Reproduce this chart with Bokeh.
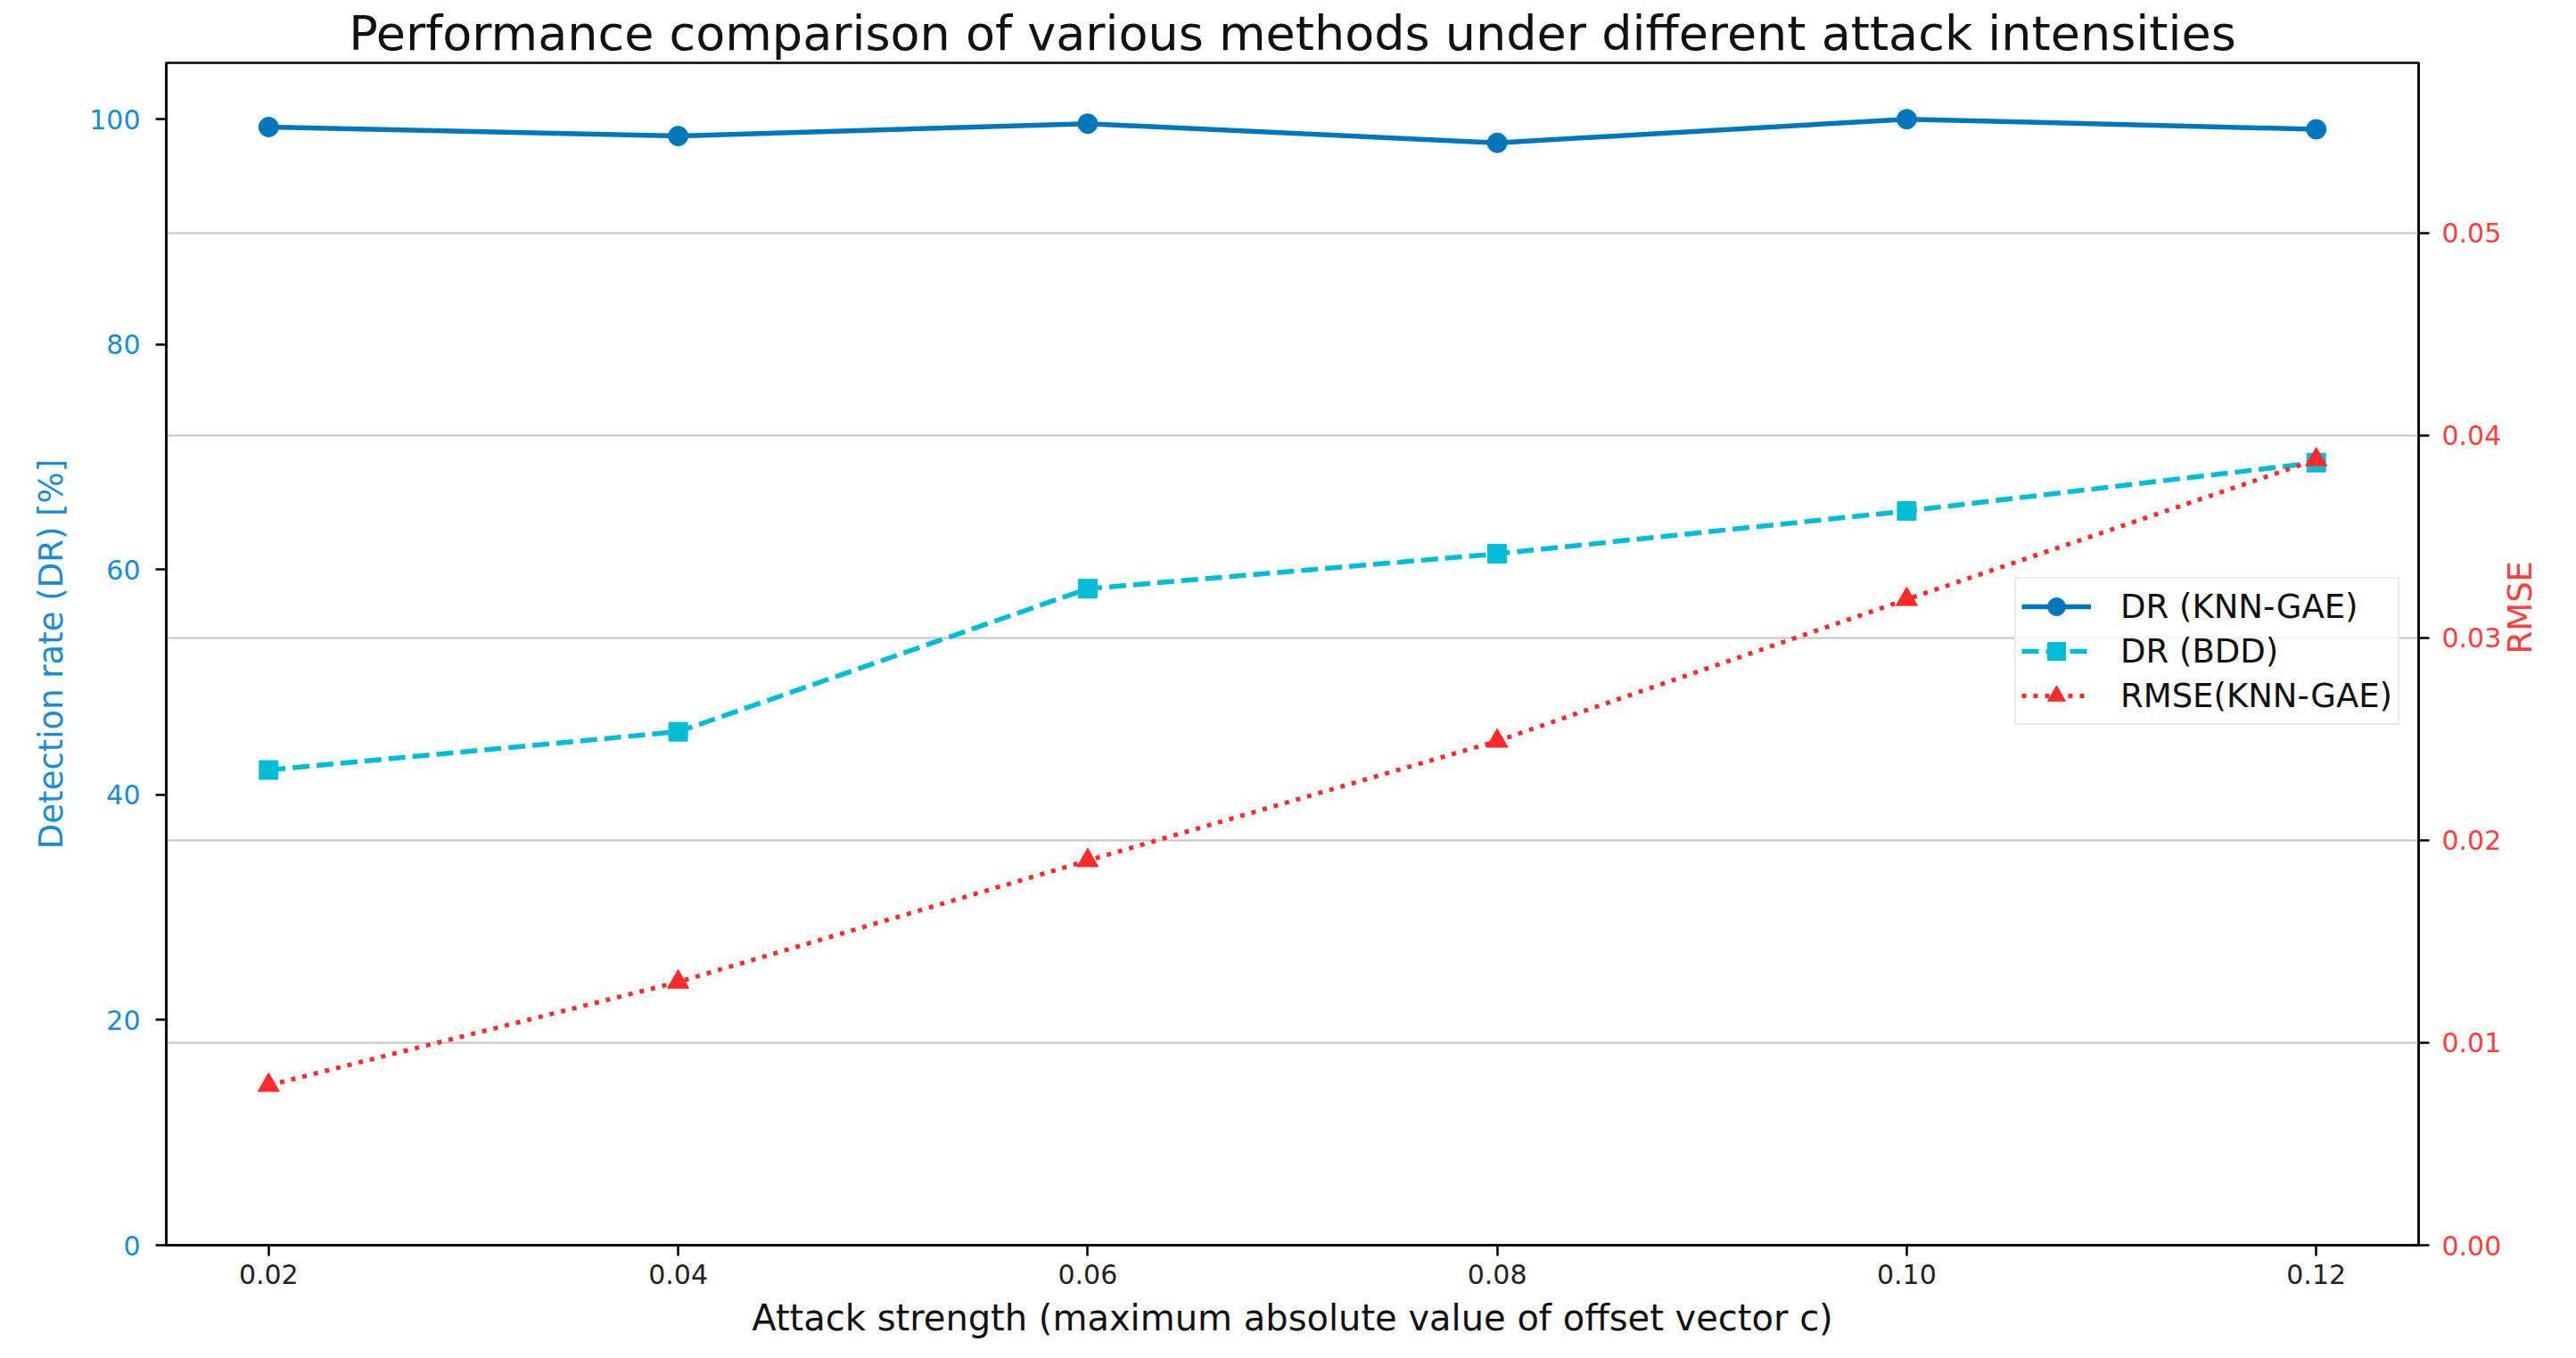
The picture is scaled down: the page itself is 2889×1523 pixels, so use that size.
import math
from bokeh.plotting import figure
from bokeh.models import (Range1d, LinearAxis, FixedTicker, PrintfTickFormatter,
                          Legend, LegendItem, Grid)
from bokeh.embed import file_html
from bokeh.resources import INLINE

# ---- data ----
attack = [0.02, 0.04, 0.06, 0.08, 0.10, 0.12]
dr_knn_gae = [99.3, 98.5, 99.6, 97.9, 100.0, 99.1]
dr_bdd = [42.2, 45.6, 58.3, 61.4, 65.2, 69.5]
rmse_knn_gae = [0.0079, 0.0130, 0.0190, 0.0249, 0.0319, 0.0388]

x_ticks = [0.02, 0.04, 0.06, 0.08, 0.10, 0.12]
left_ticks = [0, 20, 40, 60, 80, 100]
right_ticks = [0.0, 0.01, 0.02, 0.03, 0.04, 0.05]

title_text = "Performance comparison of various methods under different attack intensities"
x_label = "Attack strength (maximum absolute value of offset vector c)"
y_label = "Detection rate (DR) [%]"
y2_label = "RMSE"

# ---- styles ----
FONT = "DejaVu Sans"
C_KNN = "#0077bb"
C_LEFT_TXT = "#1a8cd0"
C_BDD = "#00bcd4"
C_RMSE = "#ff2a2a"
C_RMSE_TXT = "#ff4040"

p = figure(width=2873, height=1507, output_backend="svg", toolbar_location=None,
           x_range=Range1d(0.015, 0.125), y_range=Range1d(0, 105),
           min_border_left=186, min_border_right=161, min_border_top=70,
           min_border_bottom=111)
p.extra_y_ranges = {"rmse": Range1d(0, 0.0584)}

p.title.text = title_text
p.title.align = "center"
p.title.text_font = FONT
p.title.text_font_size = "54px"
p.title.text_font_style = "normal"
p.title.text_color = "#111111"
p.title.standoff = 4
p.title.offset = 0

p.outline_line_color = "black"
p.outline_line_width = 2.5
p.outline_line_alpha = 1
p.background_fill_color = "white"
p.border_fill_color = "white"

# default grids off; use grid from right axis ticks
p.xgrid.visible = False
p.ygrid.visible = False
g = Grid(dimension=1, ticker=FixedTicker(ticks=right_ticks), y_range_name="rmse",
         grid_line_color="#c4c4c4", grid_line_width=2)
p.add_layout(g)

# x axis
xa = p.xaxis[0]
xa.ticker = FixedTicker(ticks=x_ticks)
xa.formatter = PrintfTickFormatter(format="%.2f")
xa.axis_label = x_label
# left axis
ya = p.yaxis[0]
ya.ticker = FixedTicker(ticks=left_ticks)
ya.formatter = PrintfTickFormatter(format="%d")
ya.axis_label = y_label
# right axis
ra = LinearAxis(y_range_name="rmse", ticker=FixedTicker(ticks=right_ticks),
                formatter=PrintfTickFormatter(format="%.2f"), axis_label=y2_label)
p.add_layout(ra, "right")

for ax in (xa, ya, ra):
    ax.axis_line_color = "black"
    ax.axis_line_width = 2.5
    ax.major_tick_line_color = "black"
    ax.major_tick_line_width = 2.5
    ax.major_tick_out = 12
    ax.major_tick_in = 0
    ax.minor_tick_line_color = None
    ax.major_label_text_font = FONT
    ax.major_label_text_font_size = "30px"
    ax.axis_label_text_font = FONT
    ax.axis_label_text_font_size = "37px"
    ax.axis_label_text_font_style = "normal"

xa.major_label_text_color = "#222222"
xa.axis_label_text_color = "#111111"
xa.axis_label_text_font_size = "40px"
xa.major_label_standoff = 9
xa.axis_label_standoff = 12

ya.major_label_text_color = C_LEFT_TXT
ya.axis_label_text_color = C_LEFT_TXT
ya.major_label_standoff = 17
ya.axis_label_standoff = 18

ra.major_label_text_color = C_RMSE_TXT
ra.axis_label_text_color = C_RMSE_TXT
ra.major_label_standoff = 14
ra.axis_label_standoff = 18
ra.axis_label_orientation = math.pi / 2

# ---- series ----
l1 = p.line(attack, dr_knn_gae, line_color=C_KNN, line_width=5.5)
s1 = p.scatter(attack, dr_knn_gae, marker="circle", size=22, fill_color=C_KNN, line_color=C_KNN)

l2 = p.line(attack, dr_bdd, line_color=C_BDD, line_width=5.5, line_dash="19 8")
s2 = p.scatter(attack, dr_bdd, marker="square", size=21, fill_color=C_BDD, line_color=C_BDD)

l3 = p.line(attack, rmse_knn_gae, line_color=C_RMSE, line_width=5, line_dash="5 8",
            y_range_name="rmse")
s3 = p.scatter(attack, rmse_knn_gae, marker="triangle", size=24, fill_color=C_RMSE,
               line_color=C_RMSE, y_range_name="rmse")

legend = Legend(items=[
    LegendItem(label="DR (KNN-GAE)", renderers=[l1, s1]),
    LegendItem(label="DR (BDD)", renderers=[l2, s2]),
    LegendItem(label="RMSE(KNN-GAE)", renderers=[l3, s3]),
], location=(2073, 583))
legend.label_text_font = FONT
legend.label_text_font_size = "37px"
legend.label_text_color = "#111111"
legend.glyph_width = 78
legend.glyph_height = 50
legend.label_height = 50
legend.label_standoff = 33
legend.spacing = 0
legend.padding = 6
legend.margin = 0
legend.border_line_color = "#d6d6d6"
legend.border_line_width = 2
legend.background_fill_color = "white"
legend.background_fill_alpha = 0.85
p.add_layout(legend)

open("out.html", "w").write(file_html(p, INLINE))
